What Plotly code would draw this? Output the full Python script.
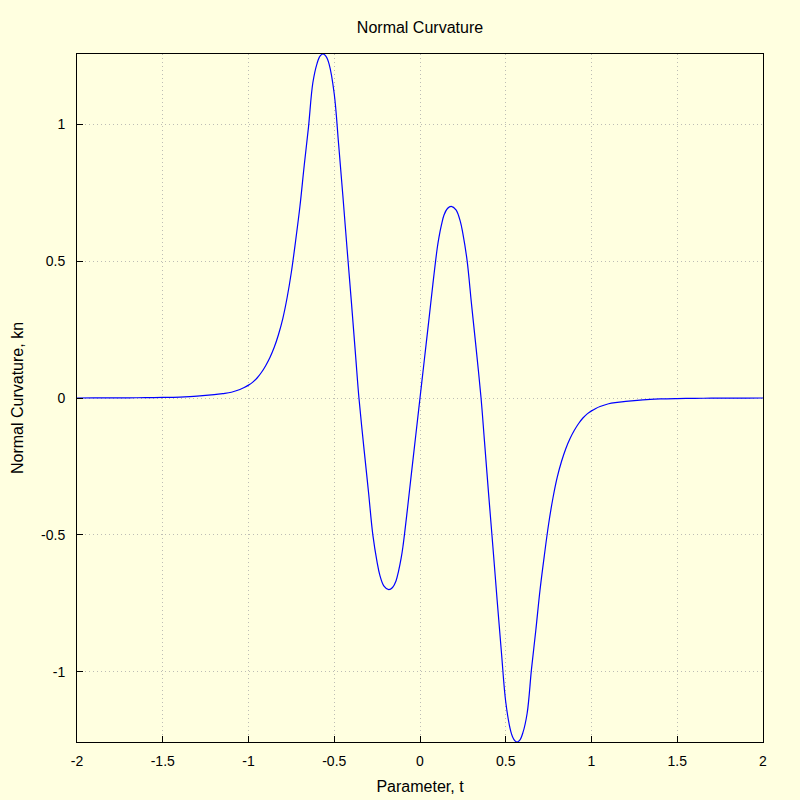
import plotly.graph_objects as go

# Parameter t and normal curvature kn
t_values = [
    -2.0, -1.9, -1.8, -1.7, -1.6, -1.5, -1.4, -1.3, -1.2, -1.15, -1.1, -1.05,
    -1.025, -1.0, -0.975, -0.95, -0.925, -0.9, -0.875, -0.85, -0.825, -0.8,
    -0.775, -0.75, -0.725, -0.7, -0.675, -0.65, -0.625, -0.6, -0.583, -0.566,
    -0.548, -0.53, -0.5, -0.475, -0.45, -0.425, -0.4, -0.375, -0.356, -0.325,
    -0.3, -0.275, -0.25, -0.235, -0.21, -0.182, -0.16, -0.14, -0.125, -0.11,
    -0.1, -0.075, -0.05, -0.025, 0.0,
    0.025, 0.05, 0.075, 0.1, 0.11, 0.125, 0.14, 0.16, 0.182, 0.21, 0.235,
    0.25, 0.275, 0.3, 0.325, 0.356, 0.375, 0.4, 0.425, 0.45, 0.475, 0.5,
    0.53, 0.548, 0.566, 0.583, 0.6, 0.625, 0.65, 0.675, 0.7, 0.725, 0.75,
    0.775, 0.8, 0.825, 0.85, 0.875, 0.9, 0.925, 0.95, 0.975, 1.0, 1.025,
    1.05, 1.1, 1.15, 1.2, 1.3, 1.4, 1.5, 1.6, 1.7, 1.8, 1.9, 2.0,
]
kn_values = [
    0.0, 0.0002, 0.0004, 0.0007, 0.0012, 0.002, 0.0035, 0.0065, 0.012, 0.016, 0.021, 0.031,
    0.038, 0.047, 0.058, 0.073, 0.093, 0.118, 0.148, 0.185, 0.232, 0.29,
    0.366, 0.46, 0.575, 0.70, 0.85, 0.99, 1.15, 1.222, 1.248, 1.256,
    1.247, 1.219, 1.11, 0.93, 0.74, 0.543, 0.35, 0.15, 0.0, -0.195,
    -0.345, -0.50, -0.60, -0.645, -0.687, -0.70, -0.692, -0.668, -0.632, -0.585,
    -0.545, -0.415, -0.275, -0.138, 0.0,
    0.138, 0.275, 0.415, 0.545, 0.585, 0.632, 0.668, 0.692, 0.70, 0.687, 0.645,
    0.60, 0.50, 0.345, 0.195, 0.0, -0.15, -0.35, -0.543, -0.74, -0.93, -1.11,
    -1.219, -1.247, -1.256, -1.248, -1.222, -1.15, -0.99, -0.85, -0.70, -0.575, -0.46,
    -0.366, -0.29, -0.232, -0.185, -0.148, -0.118, -0.093, -0.073, -0.058, -0.047, -0.038,
    -0.031, -0.021, -0.016, -0.012, -0.0065, -0.0035, -0.002, -0.0012, -0.0007, -0.0004, -0.0002, 0.0,
]

x_ticks = [-2, -1.5, -1, -0.5, 0, 0.5, 1, 1.5, 2]
x_tick_labels = ["-2", "-1.5", "-1", "-0.5", "0", "0.5", "1", "1.5", "2"]
y_ticks = [-1, -0.5, 0, 0.5, 1]
y_tick_labels = ["-1", "-0.5", "0", "0.5", "1"]

bg = "#FFFFE0"
grid_color = "#BDBDB5"
font_family = "Liberation Sans, Arial, sans-serif"

fig = go.Figure()
fig.add_trace(go.Scatter(
    x=t_values, y=kn_values, mode="lines",
    line=dict(color="#0000FF", width=1.2, shape="spline", smoothing=1.0),
    showlegend=False, hoverinfo="x+y",
))

fig.update_layout(
    width=800, height=800,
    paper_bgcolor=bg, plot_bgcolor=bg,
    margin=dict(l=77, r=37, t=54, b=58, autoexpand=False),
    font=dict(family=font_family, size=14, color="black"),
    title=dict(text="Normal Curvature", x=0.5, xref="paper", xanchor="center",
               y=1 - 27 / 800, yref="container", yanchor="middle",
               font=dict(size=16, family=font_family, color="black")),
)

fig.update_xaxes(
    range=[-2, 2], tickmode="array", tickvals=x_ticks, ticktext=x_tick_labels,
    showline=True, linecolor="black", linewidth=1, mirror=True,
    ticks="inside", ticklen=6, tickcolor="black", tickwidth=1,
    showgrid=True, gridcolor=grid_color, griddash="1px,3px", gridwidth=1,
    zeroline=False, ticklabelstandoff=6, automargin=False,
    title=dict(text="Parameter, t", standoff=13, font=dict(size=16)),
    tickfont=dict(size=14),
)
fig.update_yaxes(
    range=[-1.256, 1.256], tickmode="array", tickvals=y_ticks, ticktext=y_tick_labels,
    showline=True, linecolor="black", linewidth=1, mirror=True,
    ticks="inside", ticklen=6, tickcolor="black", tickwidth=1,
    showgrid=True, gridcolor=grid_color, griddash="1px,3px", gridwidth=1,
    zeroline=False, ticklabelstandoff=8, automargin=False,
    title=dict(text="Normal Curvature, kn", standoff=13, font=dict(size=16)),
    tickfont=dict(size=14),
)

fig.write_html(
    "out.html",
    config={"displayModeBar": False},
    post_script="document.body.style.margin='0';document.body.style.background='#FFFFE0';",
)
